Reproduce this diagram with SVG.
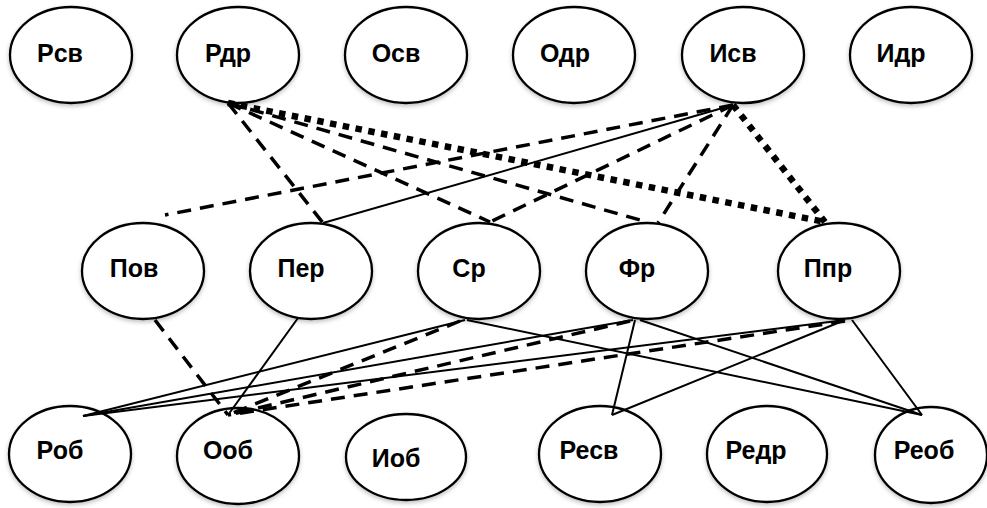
<svg xmlns="http://www.w3.org/2000/svg" width="987" height="508" viewBox="0 0 987 508">
  <style>
    .node ellipse { fill: #ffffff; stroke: #000000; stroke-width: 2.3; filter: url(#shadow); }
    .node text { font-family: "Liberation Sans", Arial, sans-serif; font-weight: bold; font-size: 25px; fill: #000000; text-anchor: middle; }
    .solid { stroke: #000000; stroke-width: 2; fill: none; }
    .dash { stroke: #000000; stroke-width: 3.5; stroke-dasharray: 14 9; fill: none; }
    .dot { stroke: #000000; stroke-width: 6.5; stroke-dasharray: 6.5 6.5; fill: none; }
  </style>
  <defs>
    <filter id="shadow" x="-20%" y="-20%" width="140%" height="150%">
      <feDropShadow dx="0" dy="2" stdDeviation="2.2" flood-color="#000000" flood-opacity="0.25"/>
    </filter>
  </defs>
  <rect width="987" height="508" fill="#ffffff"/>

  <!-- nodes: top row -->
  <g id="n-rsv" class="node"><ellipse cx="71" cy="55" rx="61" ry="48"/><text x="60" y="62">Рсв</text></g>
  <g id="n-rdr" class="node"><ellipse cx="238" cy="55" rx="61" ry="48"/><text x="228" y="62">Рдр</text></g>
  <g id="n-osv" class="node"><ellipse cx="406" cy="55" rx="61" ry="48"/><text x="396" y="62">Осв</text></g>
  <g id="n-odr" class="node"><ellipse cx="574" cy="55" rx="61" ry="48"/><text x="565" y="62">Одр</text></g>
  <g id="n-isv" class="node"><ellipse cx="743" cy="55" rx="61" ry="48"/><text x="733" y="62">Исв</text></g>
  <g id="n-idr" class="node"><ellipse cx="911" cy="55" rx="61" ry="48"/><text x="901" y="62">Идр</text></g>

  <!-- nodes: middle row -->
  <g id="n-pov" class="node"><ellipse cx="143" cy="271" rx="61" ry="48"/><text x="134" y="277">Пов</text></g>
  <g id="n-per" class="node"><ellipse cx="311" cy="271" rx="61" ry="48"/><text x="301" y="277">Пер</text></g>
  <g id="n-sr" class="node"><ellipse cx="479" cy="271" rx="61" ry="48"/><text x="469" y="277">Ср</text></g>
  <g id="n-fr" class="node"><ellipse cx="647" cy="271" rx="61" ry="48"/><text x="637" y="277">Фр</text></g>
  <g id="n-ppr" class="node"><ellipse cx="839" cy="271" rx="61" ry="48"/><text x="828" y="277">Ппр</text></g>

  <!-- nodes: bottom row -->
  <g id="n-rob" class="node"><ellipse cx="70" cy="454" rx="61" ry="48"/><text x="60" y="459">Роб</text></g>
  <g id="n-oob" class="node"><ellipse cx="238" cy="456" rx="61" ry="48"/><text x="228" y="459">Ооб</text></g>
  <g id="n-iob" class="node"><ellipse cx="406" cy="457" rx="60" ry="43"/><text x="396" y="467">Иоб</text></g>
  <g id="n-resv" class="node"><ellipse cx="600" cy="454" rx="61" ry="48"/><text x="589" y="459">Ресв</text></g>
  <g id="n-redr" class="node"><ellipse cx="767" cy="454" rx="60" ry="48"/><text x="756" y="459">Редр</text></g>
  <g id="n-reob" class="node"><ellipse cx="931" cy="455" rx="56" ry="48"/><text x="924" y="459">Реоб</text></g>

  <!-- connectors -->
  <g id="connectors">
    <!-- from Рдр -->
    <line class="dash" x1="228" y1="103" x2="323" y2="223"/>
    <line class="dash" x1="228" y1="103" x2="490" y2="222"/>
    <line class="dash" x1="228" y1="103" x2="647" y2="222"/>
    <line class="dot" x1="228" y1="103" x2="825" y2="222"/>
    <!-- from Исв -->
    <line class="dash" x1="733" y1="105" x2="165" y2="215"/>
    <line class="solid" x1="733" y1="105" x2="323" y2="223"/>
    <line class="dash" x1="733" y1="105" x2="490" y2="222"/>
    <line class="dash" x1="733" y1="105" x2="658" y2="223"/>
    <line class="dot" x1="733" y1="105" x2="825" y2="222"/>
    <!-- middle row to bottom row -->
    <line class="dash" x1="155" y1="320" x2="228" y2="415"/>
    <line class="solid" x1="298" y1="318" x2="228" y2="415"/>
    <line class="solid" x1="465" y1="320" x2="83" y2="416"/>
    <line class="dash" x1="460" y1="321" x2="228" y2="415"/>
    <line class="solid" x1="467" y1="320" x2="922" y2="415"/>
    <line class="solid" x1="633" y1="320" x2="83" y2="416"/>
    <line class="dash" x1="630" y1="321" x2="228" y2="415"/>
    <line class="solid" x1="635" y1="320" x2="612" y2="415"/>
    <line class="solid" x1="640" y1="320" x2="922" y2="415"/>
    <line class="solid" x1="845" y1="320" x2="83" y2="416"/>
    <line class="dash" x1="845" y1="321" x2="228" y2="415"/>
    <line class="solid" x1="845" y1="320" x2="612" y2="415"/>
    <line class="solid" x1="852" y1="320" x2="922" y2="415"/>
  </g>
</svg>
